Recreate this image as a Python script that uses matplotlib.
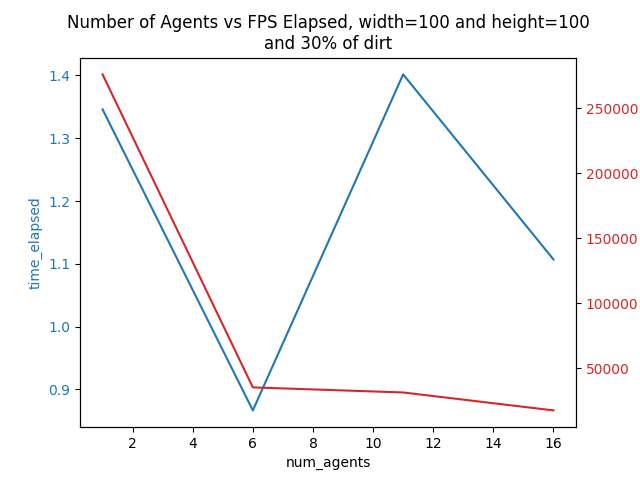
import matplotlib
matplotlib.use("Agg")
import matplotlib.pyplot as plt

num_agents = [1, 6, 11, 16]
time_elapsed = [1.346, 0.8666, 1.4016, 1.107]
fps = [276200, 35400, 31500, 17700]

fig, ax1 = plt.subplots(figsize=(6.4, 4.8), dpi=100)

color = 'tab:blue'
ax1.set_xlabel('num_agents')
ax1.set_ylabel('time_elapsed', color=color)
ax1.plot(num_agents, time_elapsed, color=color)
ax1.tick_params(axis='y', labelcolor=color)

ax2 = ax1.twinx()
color = 'tab:red'
ax2.plot(num_agents, fps, color=color)
ax2.tick_params(axis='y', labelcolor=color)

plt.title('Number of Agents vs FPS Elapsed, width=100 and height=100\nand 30% of dirt')
plt.savefig('out.png')
